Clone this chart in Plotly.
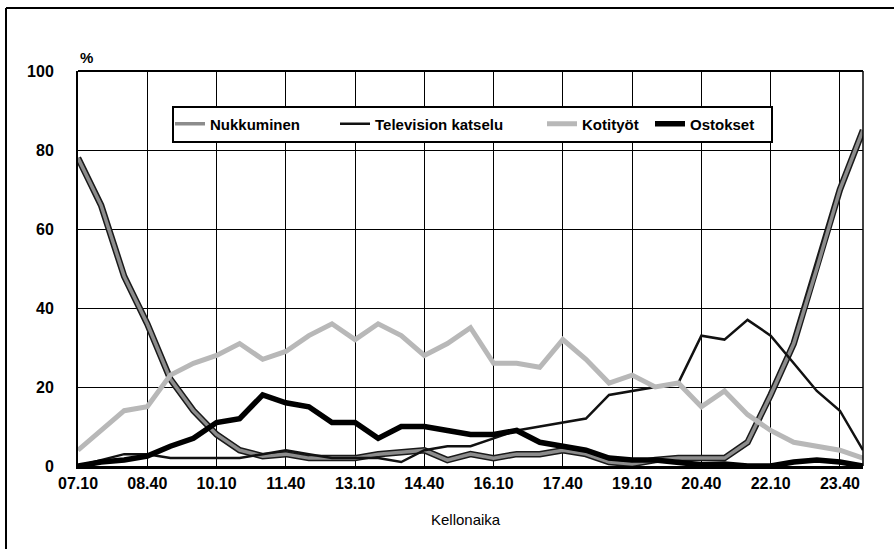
import plotly.graph_objects as go

times = ["07.10","07.40","08.10","08.40","09.10","09.40","10.10","10.40","11.10","11.40",
         "12.10","12.40","13.10","13.40","14.10","14.40","15.10","15.40","16.10","16.40",
         "17.10","17.40","18.10","18.40","19.10","19.40","20.10","20.40","21.10","21.40",
         "22.10","22.40","23.10","23.40","24.10"]
tick_labels = ["07.10","08.40","10.10","11.40","13.10","14.40","16.10","17.40","19.10","20.40","22.10","23.40"]

nukkuminen = [78,66,48,36,22,14,8,4,2.5,3,2,2,2,3,3.5,4,1.5,3,2,3,3,4,3,1,0.5,1.5,2,2,2,6,18,31,50,70,85]
tv = [0,1.5,3,3,2,2,2,2,3,4,3,2,2,2,1,4,5,5,7,9,10,11,12,18,19,20,21,33,32,37,33,26,19,14,4]
kotityot = [4,9,14,15,23,26,28,31,27,29,33,36,32,36,33,28,31,35,26,26,25,32,27,21,23,20,21,15,19,13,9,6,5,4,2]
ostokset = [0,1,1.5,2.5,5,7,11,12,18,16,15,11,11,7,10,10,9,8,8,9,6,5,4,2,1.5,1.5,1,0.3,0.5,0,0,1,1.5,1,0]

FONT = "Liberation Sans, Arial, sans-serif"

W, H = 894, 549
L, R, T, B = 78, 31, 71, 83
PW, PH = W - L - R, H - T - B

def px(x):
    return (x - L) / PW

def py(y):
    return (H - B - y) / PH

fig = go.Figure()
# sleep: dark outline + gray band
fig.add_trace(go.Scatter(x=times, y=nukkuminen, mode="lines", line=dict(color="#1a1a1a", width=6.5),
                         showlegend=False, hoverinfo="skip"))
fig.add_trace(go.Scatter(x=times, y=nukkuminen, mode="lines", name="Nukkuminen",
                         line=dict(color="#8c8c8c", width=3.5), legend="legend"))
fig.add_trace(go.Scatter(x=times, y=tv, mode="lines", name="Television katselu",
                         line=dict(color="#111111", width=2.5), legend="legend2"))
fig.add_trace(go.Scatter(x=times, y=kotityot, mode="lines", name="Kotityöt",
                         line=dict(color="#b8b8b8", width=5), legend="legend3"))
fig.add_trace(go.Scatter(x=times, y=ostokset, mode="lines", name="Ostokset",
                         line=dict(color="#000000", width=5.5), legend="legend4"))

leg_common = dict(orientation="h", yanchor="middle", xanchor="left", bgcolor="rgba(0,0,0,0)",
                  borderwidth=0, itemwidth=30,
                  font=dict(family=FONT, size=15, color="#000", weight="bold"))
ly = py(124)
fig.update_layout(
    legend=dict(x=px(170), y=ly, **leg_common),
    legend2=dict(x=px(335), y=ly, **leg_common),
    legend3=dict(x=px(542), y=ly, **leg_common),
    legend4=dict(x=px(650), y=ly, **leg_common),
)

fig.update_layout(
    width=W, height=H,
    margin=dict(l=L, r=R, t=T, b=B, pad=0),
    paper_bgcolor="white", plot_bgcolor="white",
    font=dict(family=FONT, size=15, color="#000"),
    xaxis=dict(type="category", categoryorder="array", categoryarray=times,
               range=[0, len(times) - 1],
               tickmode="array", tickvals=tick_labels, ticktext=tick_labels,
               showgrid=True, gridcolor="#000", gridwidth=1,
               showline=True, linecolor="#000", linewidth=2.5, mirror=False,
               ticks="outside", ticklen=1, tickcolor="rgba(0,0,0,0)",
               tickfont=dict(family=FONT, size=16, weight="bold"),
               zeroline=False),
    yaxis=dict(range=[0, 100], tickmode="array", tickvals=[0, 20, 40, 60, 80, 100],
               showgrid=True, gridcolor="#000", gridwidth=1,
               showline=True, linecolor="#000", linewidth=2, mirror=False,
               ticks="outside", ticklen=19, tickcolor="rgba(0,0,0,0)",
               tickfont=dict(family=FONT, size=16, weight="bold"),
               zeroline=False),
    shapes=[
        dict(type="line", xref="paper", yref="paper", x0=0, x1=1, y0=1, y1=1,
             line=dict(color="#000", width=2)),
        dict(type="line", xref="paper", yref="paper", x0=1, x1=1, y0=0, y1=1,
             line=dict(color="#000", width=1.5)),
        dict(type="rect", xref="paper", yref="paper", x0=px(173), x1=px(772), y0=py(142), y1=py(107),
             line=dict(color="#000", width=2), fillcolor="white", layer="above"),
        dict(type="line", xref="paper", yref="paper", x0=px(6), x1=px(894), y0=py(8), y1=py(8),
             line=dict(color="#000", width=2)),
        dict(type="line", xref="paper", yref="paper", x0=px(6), x1=px(6), y0=py(8), y1=py(549),
             line=dict(color="#000", width=2)),
    ],
    annotations=[
        dict(text="%", xref="paper", yref="paper", x=px(86), y=py(57), showarrow=False,
             font=dict(family=FONT, size=15, weight="bold"), xanchor="center", yanchor="middle"),
        dict(text="Kellonaika", xref="paper", yref="paper", x=px(466), y=py(519), showarrow=False,
             font=dict(family=FONT, size=15), xanchor="center", yanchor="middle"),
    ],
)

fig.write_html("out.html", config={"displayModeBar": False},
               post_script="document.body.style.margin='0px';")
